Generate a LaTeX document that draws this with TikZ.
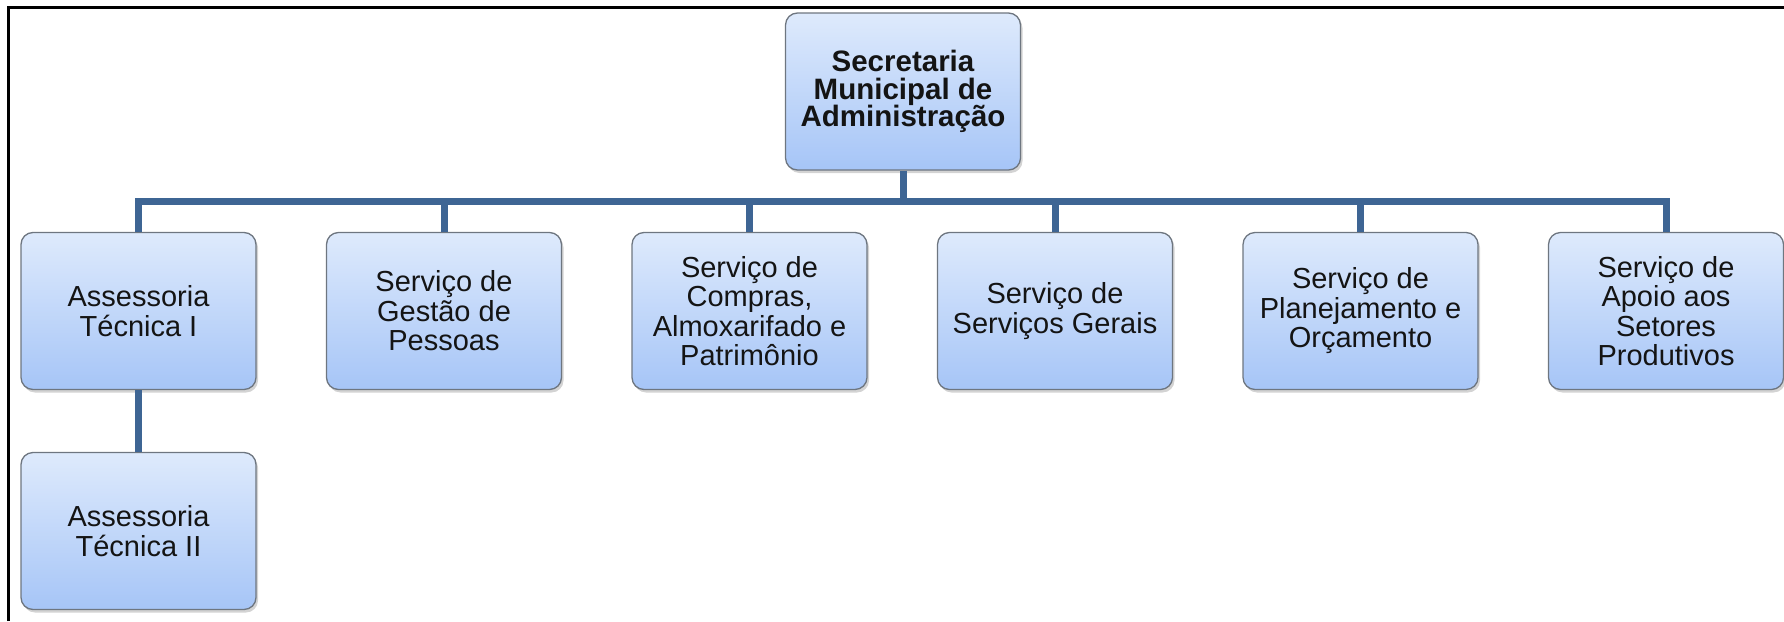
\documentclass[tikz,border=0pt]{standalone}
\usepackage{fontspec}
\setmainfont{Liberation Sans}
\usetikzlibrary{shadows}
\definecolor{conncol}{RGB}{62,101,148}
\definecolor{boxtop}{RGB}{222,234,252}
\definecolor{boxbot}{RGB}{166,197,247}
\definecolor{boxline}{RGB}{110,118,128}
\definecolor{txt}{RGB}{20,20,20}
\tikzset{
  orgbox/.style={draw=boxline, line width=1.3pt, rounded corners=12pt,
    top color=boxtop, bottom color=boxbot,
    minimum width=235pt, minimum height=157pt, align=center,
    text=txt, font=\fontsize{29}{29.5}\selectfont, inner sep=2pt,
    drop shadow={opacity=0.35, shadow xshift=2pt, shadow yshift=-3pt}},
  conn/.style={draw=conncol, line width=7pt, line join=miter},
  frame/.style={draw=black, line width=3pt}
}
\begin{document}
\begin{tikzpicture}[x=1pt,y=-1pt]
\useasboundingbox (0,0) rectangle (1784,621);
\draw[frame] (8,621) -- (8,7) -- (1784,7);
\node[orgbox, font=\fontsize{29.5}{27.5}\selectfont\bfseries] (top) at (903,91.5) {Secretaria\\Municipal de\\Administração};
\node[orgbox] (c1) at (138.5,311) {Assessoria\\Técnica I};
\node[orgbox] (c2) at (444,311) {Serviço de\\Gestão de\\Pessoas};
\node[orgbox] (c3) at (749.5,311) {Serviço de\\Compras,\\Almoxarifado e\\Patrimônio};
\node[orgbox] (c4) at (1055,311) {Serviço de\\Serviços Gerais};
\node[orgbox] (c5) at (1360.5,311) {Serviço de\\Planejamento e\\Orçamento};
\node[orgbox] (c6) at (1666,311) {Serviço de\\Apoio aos\\Setores\\Produtivos};
\node[orgbox] (c7) at (138.5,531) {Assessoria\\Técnica II};
\coordinate (bar) at (903,201.5);
\draw[conn] (c1.north) |- (c6.north |- bar) -- (c6.north);
\draw[conn] (top.south) -- (top.south |- bar);
\draw[conn] (c2.north) -- (c2.north |- bar);
\draw[conn] (c3.north) -- (c3.north |- bar);
\draw[conn] (c4.north) -- (c4.north |- bar);
\draw[conn] (c5.north) -- (c5.north |- bar);
\draw[conn] (c1.south) -- (c7.north);
\end{tikzpicture}
\end{document}
